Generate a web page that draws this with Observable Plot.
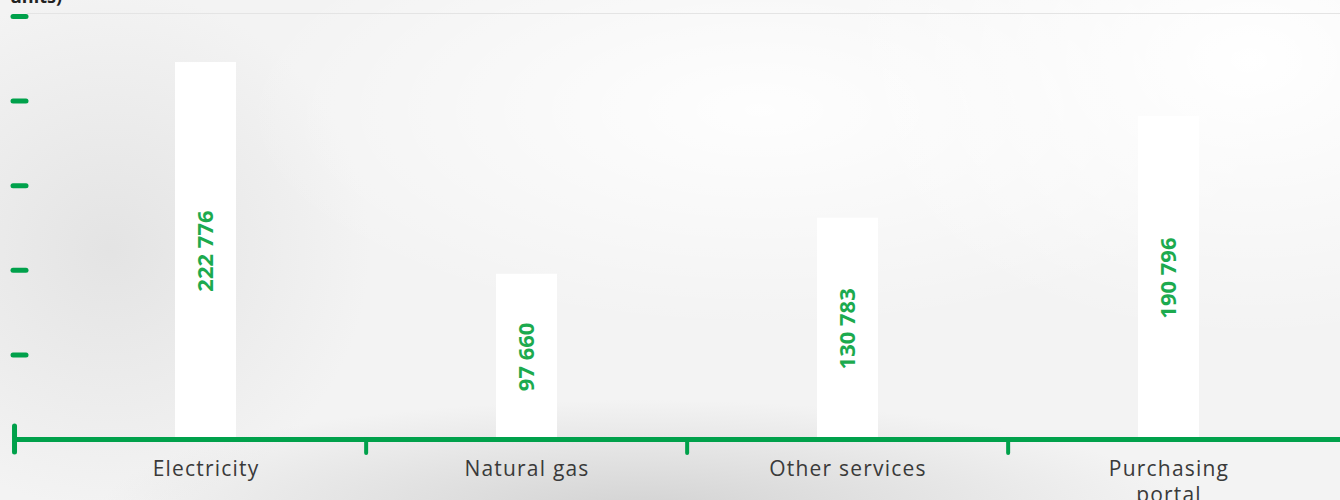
<!DOCTYPE html>
<html>
<head>
<meta charset="utf-8">
<script src="https://cdn.jsdelivr.net/npm/d3@7"></script>
<script src="https://cdn.jsdelivr.net/npm/@observablehq/plot@0.6"></script>
<style>
  html, body { margin: 0; padding: 0; width: 1340px; height: 500px; overflow: hidden; }
  body {
    position: relative;
    background:
      radial-gradient(ellipse 420px 280px at 1250px 60px, rgba(255,255,255,1), rgba(255,255,255,0)),
      radial-gradient(ellipse 520px 220px at 760px 110px, rgba(255,255,255,0.9), rgba(255,255,255,0)),
      radial-gradient(ellipse 540px 110px at 640px 510px, rgba(205,205,205,0.85), rgba(205,205,205,0)),
      radial-gradient(ellipse 260px 260px at 110px 250px, rgba(226,226,226,0.9), rgba(226,226,226,0)),
      #f3f3f3;
    font-family: "Open Sans", sans-serif;
  }
  #title {
    position: absolute; left: 10px; top: -37px;
    font: 700 18px/22px "Open Sans", sans-serif; color: #222;
  }
  #topline {
    position: absolute; left: 27px; right: 0; top: 13px; height: 0;
    border-top: 1px solid #e4e4e4;
  }
  #chart { position: absolute; left: 0; top: 0; }
  #chart g[aria-label="x-axis tick label"] text { letter-spacing: 1.2px; }
</style>
</head>
<body>
<div id="title">Number of contracts (in<br>units)</div>
<div id="topline"></div>
<div id="chart"></div>
<script>
const categories = ["Electricity", "Natural gas", "Other services", "Purchasing portal"];
const values = [222776, 97660, 130783, 190796];
const tickLabels = ["Electricity", "Natural gas", "Other services", "Purchasing\nportal"];
const yTicks = [50000, 100000, 150000, 200000, 250000];
const separators = ["Natural gas", "Other services", "Purchasing portal"];

const data = categories.map((c, i) => ({category: c, value: values[i]}));
const labelOf = new Map(categories.map((c, i) => [c, tickLabels[i]]));

const W = 1340, H = 500, mL = 13, mR = 0, mT = 16, mB = 61;
const pInner = 0.81, pOuter = 0.4675, align = 0.535;
const n = categories.length;
const step = (W - mL - mR) / (n - pInner + 2 * pOuter);
const bw = step * (1 - pInner);
const start = mL + (W - mL - mR - step * (n - pInner)) * align;
const center0 = start + bw / 2;

const green = "#00a14b";
const labelGreen = "#1caa4e";
const fmt = v => d3.format(",")(v).replace(/,/g, " ");

const chart = Plot.plot({
  width: W, height: H,
  marginLeft: mL, marginRight: mR, marginTop: mT, marginBottom: mB,
  style: {background: "transparent", fontFamily: "Open Sans, sans-serif", overflow: "visible"},
  x: {domain: categories, paddingInner: pInner, paddingOuter: pOuter, align: align},
  y: {domain: [0, 250000]},
  marks: [
    Plot.barY(data, {x: "category", y: "value", fill: "white"}),
    Plot.text(data, {
      x: "category", y: d => d.value / 2, text: d => fmt(d.value),
      rotate: -90, fill: labelGreen, fontWeight: 700, fontSize: 22,
      fontFamily: "Open Sans, sans-serif"
    }),
    Plot.axisY({ticks: yTicks, tickSize: -13, tickFormat: () => "", label: null,
      stroke: green, strokeWidth: 5, strokeLinecap: "round"}),
    Plot.ruleY([0], {stroke: green, strokeWidth: 5}),
    Plot.ruleX(separators, {x: d => d, y1: 0, y2: 0, insetTop: 0, insetBottom: -14,
      dx: -step / 2, stroke: green, strokeWidth: 4, strokeLinecap: "round"}),
    Plot.ruleX([categories[0]], {x: d => d, y1: 0, y2: 0, insetTop: -13, insetBottom: -13,
      dx: mL - center0, stroke: green, strokeWidth: 5, strokeLinecap: "round"}),
    Plot.axisX({tickSize: 0, tickPadding: 19, label: null, fontSize: 21, lineHeight: 1.2,
      fill: "#3a3a3a", tickFormat: d => labelOf.get(d)})
  ]
});
document.getElementById("chart").appendChild(chart);
</script>
</body>
</html>
